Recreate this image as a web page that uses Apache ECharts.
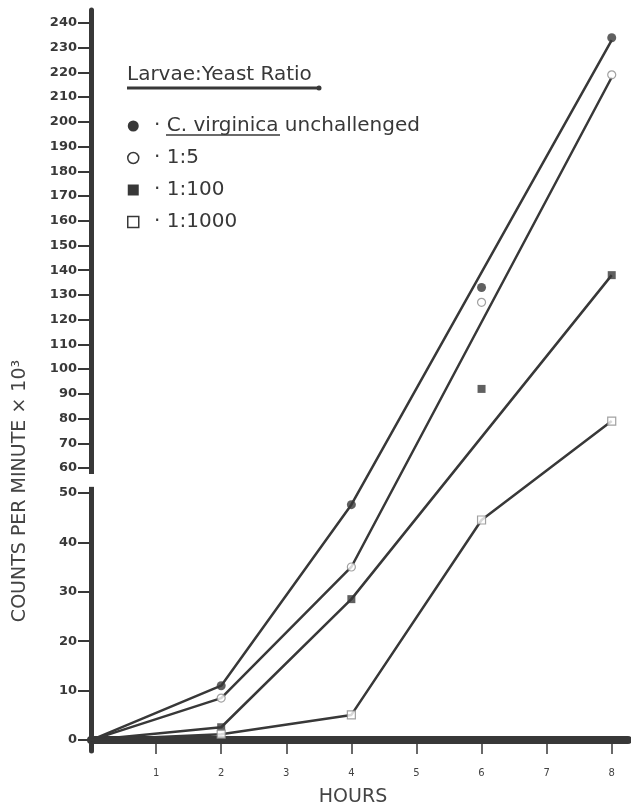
<!DOCTYPE html>
<html>
<head>
<meta charset="utf-8">
<script src="https://cdn.jsdelivr.net/npm/echarts@6/dist/echarts.min.js"></script>
<style>
  html, body { margin: 0; padding: 0; background: #fff; }
  #main { width: 631px; height: 807px; }
</style>
</head>
<body>
<div id="main"></div>
<script>
// series names (legend order)
var seriesNames = ['C. virginica unchallenged', '1:5', '1:100', '1:1000'];

// measured points, hours vs counts per minute x 10^3
var pointHours = [2, 4, 6, 8];
var pointsVirginica = [11, 47.6, 133, 234];
var points1to5 = [8.5, 35, 127, 219];
var points1to100 = [2.6, 28.5, 92, 138];
var points1to1000 = [1.2, 5.1, 44.5, 79];

// hand drawn curves [hour, value]
var curveVirginica = [[0, 0], [2, 11], [4, 47.6], [8, 233]];
var curve1to5 = [[0, 0], [2, 8.5], [4, 35], [8, 218]];
var curve1to100 = [[0, 0], [2, 2.6], [4, 28.5], [8, 138]];
var curve1to1000 = [[0, 0], [2, 1.2], [4, 5.1], [6, 44.5], [8, 79]];

// tick labels
var yTickLabels = [0, 10, 20, 30, 40, 50, 60, 70, 80, 90, 100, 110, 120, 130, 140, 150,
  160, 170, 180, 190, 200, 210, 220, 230, 240];
var xTickLabels = [1, 2, 3, 4, 5, 6, 7, 8];

// the axis is broken above 50: upper part is drawn at half density
var BREAK = 50;
function toAxis(v) { return v <= BREAK ? v : BREAK + (v - BREAK) / 2; }
function fromAxis(d) { return d <= BREAK ? d : BREAK + (d - BREAK) * 2; }

var ink = '#383838';
var font = 'DejaVu Sans';

function pts(values) {
  return pointHours.map(function (h, i) { return [h, toAxis(values[i])]; });
}
function curve(c) {
  return c.map(function (p) { return [p[0], toAxis(p[1])]; });
}

var emptyStyle = { color: '#fff', borderColor: '#8a8a8a', borderWidth: 1.2 };
var fullStyle = { color: ink };

var myChart = echarts.init(document.getElementById('main'));

var option = {
  backgroundColor: '#fff',
  animation: false,
  grid: { left: 91, right: 3, top: 10, bottom: 56 },
  xAxis: [{
    type: 'value',
    min: 0,
    max: 8.25,
    axisLine: { show: true, lineStyle: { color: ink, width: 8 } },
    axisTick: { show: true, length: 14, lineStyle: { color: ink, width: 1.5 }, customValues: xTickLabels },
    axisLabel: { customValues: xTickLabels, margin: 17, fontSize: 10, color: '#444', fontFamily: font },
    splitLine: { show: false }
  }, {
    type: 'value',
    min: 0,
    max: 8.25,
    position: 'bottom',
    axisLine: { show: false },
    axisTick: { show: true, inside: true, length: 9, lineStyle: { color: ink, width: 1.5 }, customValues: xTickLabels },
    axisLabel: { show: false },
    splitLine: { show: false }
  }],
  yAxis: {
    type: 'value',
    min: -2.2,
    max: 147.6,
    axisLine: { show: true, lineStyle: { color: ink, width: 5 } },
    axisTick: {
      show: true, length: 13, lineStyle: { color: ink, width: 2 },
      customValues: yTickLabels.map(toAxis)
    },
    axisLabel: {
      customValues: yTickLabels.map(toAxis),
      margin: 14,
      fontSize: 13,
      fontWeight: 'bold',
      color: ink,
      fontFamily: font,
      formatter: function (d) { return String(Math.round(fromAxis(d))); }
    },
    splitLine: { show: false }
  },
  legend: {
    orient: 'vertical',
    left: 127,
    top: 116,
    padding: 0,
    itemWidth: 11,
    itemHeight: 11,
    itemGap: 12,
    selectedMode: false,
    textStyle: { fontSize: 20, lineHeight: 20, color: ink, fontFamily: font, padding: [0, 0, 0, 4] },
    formatter: function (name) { return ' \u00b7 ' + name; },
    data: [
      { name: seriesNames[0], icon: 'circle', itemStyle: { color: ink } },
      { name: seriesNames[1], icon: 'circle', itemStyle: { color: '#fff', borderColor: ink, borderWidth: 1.5 } },
      { name: seriesNames[2], icon: 'rect', itemStyle: { color: ink } },
      { name: seriesNames[3], icon: 'rect', itemStyle: { color: '#fff', borderColor: ink, borderWidth: 1.5 } }
    ]
  },
  series: [
    { name: seriesNames[0], type: 'line', data: curve(curveVirginica), showSymbol: false, z: 2,
      lineStyle: { color: ink, width: 2.5 }, itemStyle: { color: ink } },
    { name: seriesNames[1], type: 'line', data: curve(curve1to5), showSymbol: false, z: 2,
      lineStyle: { color: ink, width: 2.5 }, itemStyle: { color: ink } },
    { name: seriesNames[2], type: 'line', data: curve(curve1to100), showSymbol: false, z: 2,
      lineStyle: { color: ink, width: 2.5 }, itemStyle: { color: ink } },
    { name: seriesNames[3], type: 'line', data: curve(curve1to1000), showSymbol: false, z: 2,
      lineStyle: { color: ink, width: 2.5 }, itemStyle: { color: ink } },

    { name: seriesNames[0], type: 'scatter', data: pts(pointsVirginica), symbol: 'circle', symbolSize: 9, z: 3,
      itemStyle: fullStyle },
    { name: seriesNames[1], type: 'scatter', data: pts(points1to5), symbol: 'circle', symbolSize: 8, z: 3,
      itemStyle: emptyStyle },
    { name: seriesNames[2], type: 'scatter', data: pts(points1to100), symbol: 'rect', symbolSize: 8, z: 3,
      itemStyle: fullStyle },
    { name: seriesNames[3], type: 'scatter', data: pts(points1to1000), symbol: 'rect', symbolSize: 8, z: 3,
      itemStyle: emptyStyle }
  ]
};

myChart.setOption(option);

// break in the y axis line between 50 and 60, plus names and legend heading
var gapTop = myChart.convertToPixel({ yAxisIndex: 0 }, 53.8);
var gapBottom = myChart.convertToPixel({ yAxisIndex: 0 }, 51.2);
var axisX = myChart.convertToPixel({ xAxisIndex: 0 }, 0);

myChart.setOption({
  graphic: [
    { type: 'rect', z: 100, shape: { x: axisX - 6, y: gapTop, width: 12, height: gapBottom - gapTop },
      style: { fill: '#fff' } },
    { type: 'text', z: 100, x: 20, y: 491, rotation: Math.PI / 2,
      style: { text: 'COUNTS PER MINUTE \u00d7 10\u00b3', fontSize: 19, fontFamily: font, fill: '#444',
        textAlign: 'center', textVerticalAlign: 'middle' } },
    { type: 'text', z: 100, x: 353, y: 797,
      style: { text: 'HOURS', fontSize: 19, fontFamily: font, fill: '#444',
        textAlign: 'center', textVerticalAlign: 'middle' } },
    { type: 'text', z: 100, x: 127, y: 75,
      style: { text: 'Larvae:Yeast Ratio', fontSize: 20, fontFamily: font, fill: ink,
        textAlign: 'left', textVerticalAlign: 'middle' } },
    { type: 'line', z: 100, shape: { x1: 127, y1: 88, x2: 318, y2: 88 },
      style: { stroke: ink, lineWidth: 3 } },
    { type: 'circle', z: 100, shape: { cx: 319, cy: 88, r: 2.5 }, style: { fill: ink } },
    { type: 'line', z: 100, shape: { x1: 166, y1: 135, x2: 280, y2: 135 },
      style: { stroke: ink, lineWidth: 1.5 } }
  ]
});
</script>
</body>
</html>
